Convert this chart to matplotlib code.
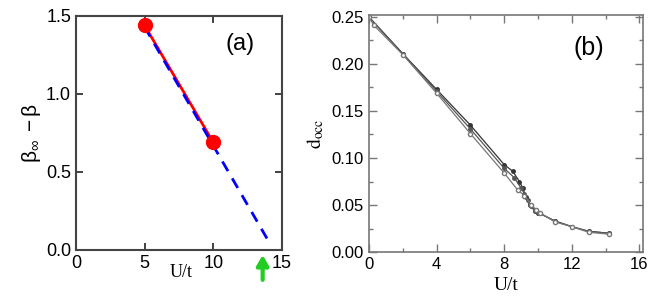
import numpy as np
import matplotlib.pyplot as plt
from matplotlib.ticker import MultipleLocator

plt.rcParams['font.family'] = ['Liberation Sans', 'DejaVu Sans']
plt.rcParams['mathtext.fontset'] = 'stix'

# panel (a)
pts_u = [5, 10]
pts_b = [1.44, 0.69]
fit_u = [5, 14.2]
fit_b = [1.43, 0.03]
arrow_u = 13.6

# panel (b): three curves of d_occ vs U/t
uA = [0, 2, 4, 6, 8, 8.5, 8.9, 9.1, 9.3, 9.5, 9.8, 10, 11, 12, 13, 14.2]
dA = [0.25, 0.211, 0.173, 0.135, 0.093, 0.086, 0.075, 0.068, 0.058, 0.050, 0.044, 0.042, 0.033, 0.027, 0.022, 0.020]
uB = [0, 2, 4, 6, 8, 8.6, 9.0, 9.2, 9.4, 9.6, 9.8, 10, 11, 12, 13, 14.2]
dB = [0.25, 0.211, 0.171, 0.131, 0.089, 0.079, 0.068, 0.062, 0.055, 0.049, 0.045, 0.042, 0.033, 0.027, 0.022, 0.020]
uC = [0, 0.3, 2, 4, 6, 8, 8.8, 9.2, 9.6, 9.9, 10.1, 11, 12, 13, 14.2]
dC = [0.25, 0.241, 0.210, 0.169, 0.126, 0.084, 0.066, 0.060, 0.050, 0.045, 0.042, 0.032, 0.027, 0.021, 0.019]

fig = plt.figure(figsize=(6.54, 3.07), dpi=100)

ax1 = fig.add_axes([0.116, 0.186, 0.315, 0.762])
ax1.plot(pts_u, pts_b, color='red', lw=2, zorder=2)
ax1.plot(fit_u, fit_b, color='blue', lw=2, ls=(0, (4, 3)), zorder=3)
ax1.plot(pts_u, pts_b, 'o', color='red', ms=10, zorder=4)
ax1.set_xlim(0, 15)
ax1.set_ylim(0, 1.5)
ax1.set_xticks([0, 5, 10, 15])
ax1.set_yticks([0, 0.5, 1.0, 1.5])
ax1.set_yticklabels(['0.0', '0.5', '1.0', '1.5'])
ax1.tick_params(direction='in', top=True, right=True, labelsize=13, length=5, width=1.2, color='#222222')
for s in ax1.spines.values():
    s.set_color('#444444')
    s.set_linewidth(1.5)
ax1.text(0.87, 0.88, '(a)', transform=ax1.transAxes, fontsize=17, ha='right', va='center')
ax1.set_ylabel(r'$\mathregular{β_{∞}\ -β}$', fontsize=15, labelpad=2)
fig.text(0.277, 0.111, 'U/t', family='Liberation Serif', fontsize=13, ha='center', va='center')
ax1.annotate('', xy=(arrow_u, -0.01), xytext=(arrow_u, -0.14),
             xycoords=('data', 'axes fraction'), textcoords=('data', 'axes fraction'),
             arrowprops=dict(arrowstyle='-|>,head_width=0.35,head_length=0.6', color='#22cc22', lw=3))

ax2 = fig.add_axes([0.564, 0.179, 0.419, 0.772])
ax2.plot(uA, dA, '-o', color='#333333', lw=0.9, ms=2.5)
ax2.plot(uB, dB, '-o', color='#555555', lw=0.9, ms=2.5)
ax2.plot(uC, dC, '-o', color='#777777', lw=0.9, ms=3, mfc='white')
ax2.set_xlim(0, 16.2)
ax2.set_ylim(0, 0.252)
ax2.set_xticks([0, 4, 8, 12, 16])
ax2.set_yticks([0, 0.05, 0.10, 0.15, 0.20, 0.25])
ax2.set_yticklabels(['0.00', '0.05', '0.10', '0.15', '0.20', '0.25'])
ax2.xaxis.set_minor_locator(MultipleLocator(2))
ax2.yaxis.set_minor_locator(MultipleLocator(0.025))
ax2.tick_params(which='both', direction='in', top=True, right=True, color='#777777', width=1)
ax2.tick_params(which='major', length=6, labelsize=12)
ax2.tick_params(which='minor', length=3)
for s in ax2.spines.values():
    s.set_color('#777777')
    s.set_linewidth(1.2)
ax2.text(0.86, 0.86, '(b)', transform=ax2.transAxes, fontsize=18, ha='right', va='center')
ax2.set_ylabel(r'$\mathrm{d_{occ}}$', fontsize=14, labelpad=4)
ax2.set_xlabel('U/t', family='Liberation Serif', fontsize=14, labelpad=4)

fig.savefig('out.png', dpi=100)
